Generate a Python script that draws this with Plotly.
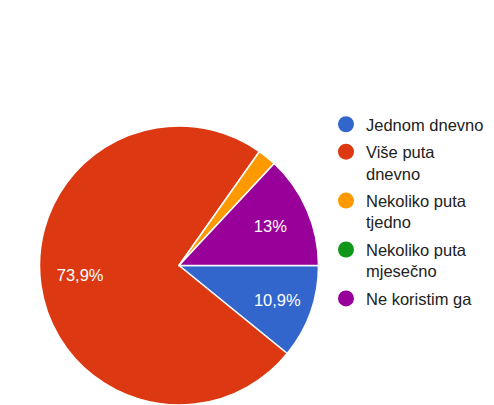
import plotly.graph_objects as go

categories = [
    "Jednom dnevno",
    "Više puta<br>dnevno",
    "Nekoliko puta<br>tjedno",
    "Nekoliko puta<br>mjesečno",
    "Ne koristim ga",
]
responses = [5, 34, 1, 0, 6]
colors = ["#3366cc", "#dc3912", "#ff9900", "#109618", "#990099"]

total = sum(responses)
labels = []
for v in responses:
    pct = 100 * v / total
    if pct < 5:
        labels.append("")
    else:
        s = f"{pct:.1f}".rstrip("0").rstrip(".")
        s = s.replace(".", ",") + "%"
        # big slice: pad so the label sits further out, like google charts
        if pct > 50:
            s = s + "\u00a0" * 13
        labels.append(s)

# page body keeps its 8px margin, so size the figure to fit the window
W, H = 486, 397

fig = go.Figure()
fig.add_trace(
    go.Pie(
        labels=categories,
        values=responses,
        text=labels,
        textinfo="text",
        textposition="inside",
        insidetextorientation="horizontal",
        sort=False,
        direction="clockwise",
        rotation=90,
        marker=dict(colors=colors, line=dict(color="white", width=1.5)),
        textfont=dict(color="white", size=16.5),
        showlegend=False,
        domain=dict(x=[31 / W, 311 / W], y=[0, 1 - 118 / H]),
        hoverinfo="label+percent",
    )
)

# legend with round markers, like the original
for name, c in zip(categories, colors):
    fig.add_trace(
        go.Scatter(
            x=[None],
            y=[None],
            mode="markers",
            name=name,
            marker=dict(color=c, size=16, symbol="circle"),
            legendgroup=name,
        )
    )

fig.update_layout(
    width=W,
    height=H,
    margin=dict(l=0, r=0, t=0, b=0, autoexpand=False),
    paper_bgcolor="white",
    plot_bgcolor="white",
    font=dict(family="Arial, Liberation Sans, sans-serif", color="#222"),
    xaxis=dict(visible=False),
    yaxis=dict(visible=False),
    legend=dict(
        x=318 / W,
        y=1 - 99 / H,
        xanchor="left",
        yanchor="top",
        valign="top",
        font=dict(size=16.5, color="#222"),
        itemwidth=30,
        tracegroupgap=3,
        bgcolor="rgba(0,0,0,0)",
    ),
)

fig.write_html("out.html")
